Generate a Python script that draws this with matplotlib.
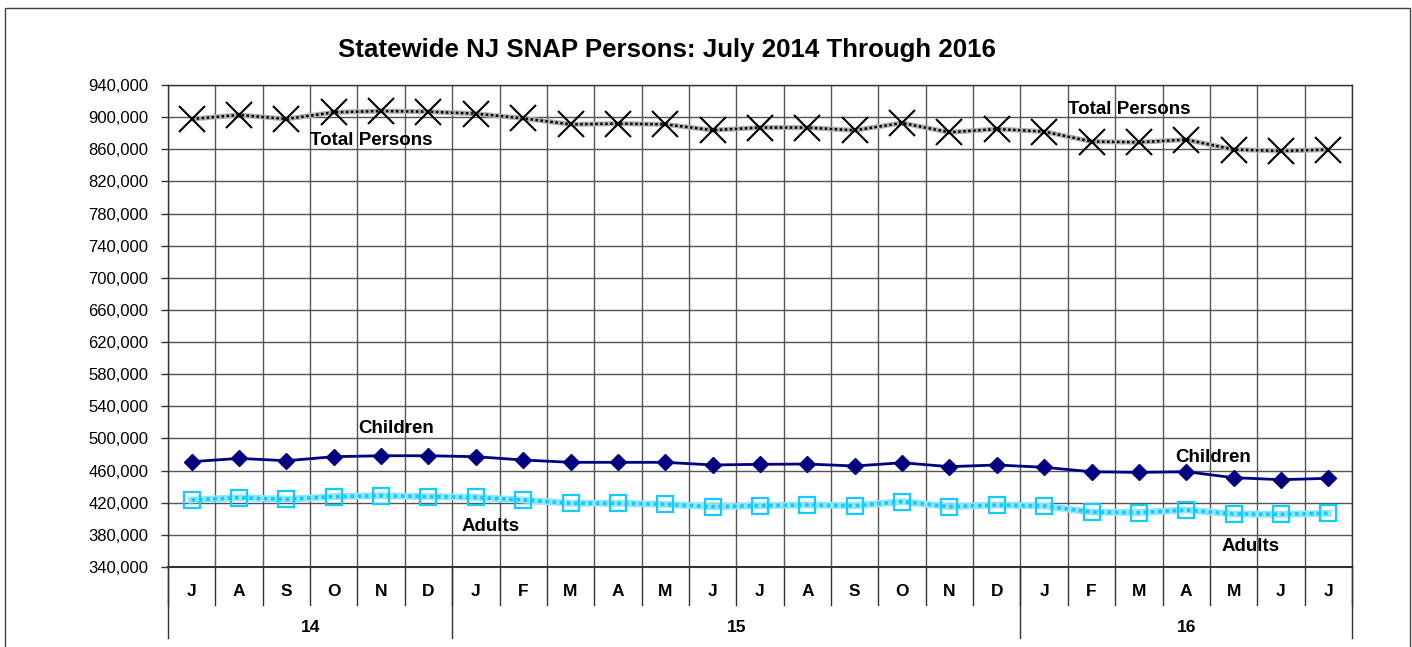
import matplotlib
matplotlib.use("Agg")
import matplotlib.pyplot as plt
from matplotlib.patches import Rectangle
from matplotlib.ticker import FuncFormatter
import matplotlib.transforms as mtransforms

plt.rcParams['font.family'] = ['Liberation Sans', 'DejaVu Sans']

months = ["J", "A", "S", "O", "N", "D",
          "J", "F", "M", "A", "M", "J", "J", "A", "S", "O", "N", "D",
          "J", "F", "M", "A", "M", "J", "J"]
years = ["14", "15", "16"]
year_spans = [(0, 6), (6, 18), (18, 25)]

total = [897700, 902700, 897700, 906000, 907600, 906800,
         904300, 898500, 891000, 891900, 891000, 883800,
         887000, 887000, 883600, 892700, 881100, 885200,
         882000, 869600, 868700, 872000, 859600, 857900, 859600]
children = [471100, 475200, 472300, 477300, 478500, 478500,
            477300, 473200, 470300, 470300, 470300, 467000,
            467800, 468200, 465700, 469800, 464900, 467000,
            464100, 458600, 457800, 458600, 451200, 448700, 450400]
adults = [423400, 426300, 424300, 427600, 428700, 427600,
          426700, 423400, 419300, 419300, 418000, 415100,
          416300, 417200, 416300, 421400, 415100, 417200,
          415900, 408400, 407600, 411000, 406000, 405600, 406800]

yticks = list(range(340000, 940001, 40000))

W, H = 1412, 647
fig = plt.figure(figsize=(W / 100, H / 100), dpi=100)
ax = fig.add_axes([168 / W, 80 / H, (1352 - 168) / W, (567 - 85) / H])

x = [i + 0.5 for i in range(len(months))]

# Total persons: checkered grey line with X markers
ax.plot(x, total, color='#b0b0b0', lw=3.6, solid_capstyle='butt', zorder=3)
ax.plot(x, total, color='black', lw=1.8, linestyle=(0, (1, 1)), zorder=3.1)
ax.plot(x, total, linestyle='none', marker='x', markersize=19, mew=1.5,
        color='black', zorder=4)

# Adults: checkered cyan line with open squares
ax.plot(x, adults, color='#8fe6ff', lw=5.0, zorder=3)
ax.plot(x, adults, color='#1ac8f5', lw=2.6, linestyle=(0, (1, 1)), zorder=3.1)
ax.plot(x, adults, linestyle='none', marker='s', markersize=12,
        markerfacecolor='none', markeredgecolor='#11ccff', mew=1.6, zorder=4)

# Children: navy solid with diamonds
ax.plot(x, children, color='#000080', lw=2.0, marker='D', markersize=8,
        markerfacecolor='#000080', markeredgecolor='#000080', zorder=5)

ax.set_xlim(0, len(months))
ax.set_ylim(340000, 940000)
ax.set_yticks(yticks)
ax.yaxis.set_major_formatter(FuncFormatter(lambda v, p: f"{int(v):,}"))
ax.tick_params(axis='y', direction='out', length=5, width=1, color='#333333',
               labelsize=12, pad=9)
ax.set_xticks([i for i in range(len(months) + 1)])
ax.set_xticklabels([])
ax.tick_params(axis='x', length=0)

ax.grid(True, color='#555555', lw=1.0)
ax.set_axisbelow(True)
for s in ax.spines.values():
    s.set_color('#333333')
    s.set_linewidth(1.0)
ax.spines['bottom'].set_linewidth(1.5)

# Category axis labels
trans = mtransforms.blended_transform_factory(ax.transData, fig.transFigure)
y_axis = 80 / H
y_month_sep = (647 - 605) / H
y_year_sep = (647 - 638) / H
for i, m in enumerate(months):
    ax.text(i + 0.5, (647 - 592) / H, m, transform=trans, ha='center', va='center',
            fontsize=12.5, fontweight='bold')
for i in range(len(months) + 1):
    ax.plot([i, i], [y_axis, y_month_sep], transform=trans, color='#333333',
            lw=1.0, clip_on=False)
for (a, b), yl in zip(year_spans, years):
    ax.text((a + b) / 2, (647 - 628) / H, yl, transform=trans, ha='center',
            va='center', fontsize=12.5, fontweight='bold')
for a in [0, 6, 18, 25]:
    ax.plot([a, a], [y_axis, y_year_sep], transform=trans, color='#333333',
            lw=1.0, clip_on=False)

# Series annotations
lab = dict(fontsize=13.5, fontweight='bold', ha='center', va='center', zorder=6)
ax.text(4.29, 871500, "Total Persons", **lab)
ax.text(20.29, 910100, "Total Persons", **lab)
ax.text(4.81, 513000, "Children", **lab)
ax.text(22.07, 476900, "Children", **lab)
ax.text(6.82, 391000, "Adults", **lab)
ax.text(22.85, 366100, "Adults", **lab)

fig.text(667 / W, (647 - 49.5) / H, "Statewide NJ SNAP Persons: July 2014 Through 2016",
         ha='center', va='center', fontsize=18.6, fontweight='bold')

# Outer chart frame
fig.patches.append(Rectangle((5 / W, -0.05), (1410 - 5) / W, (647 - 8) / H + 0.05,
                             transform=fig.transFigure, fill=False,
                             edgecolor='#444444', lw=1.0))

fig.savefig("out.png", dpi=100)
